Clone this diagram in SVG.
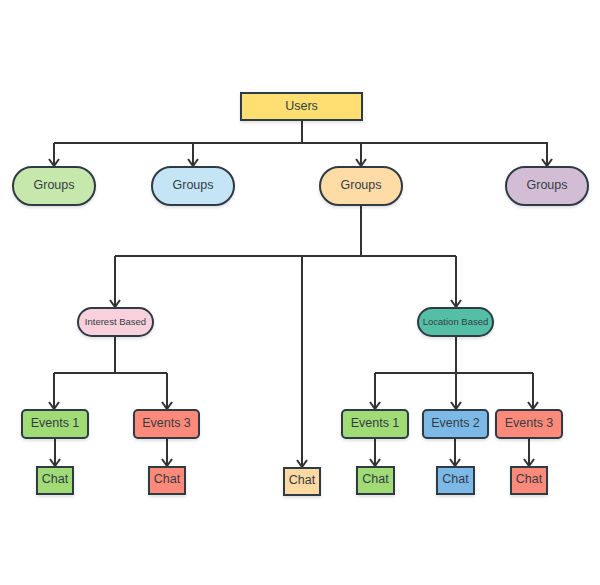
<svg xmlns="http://www.w3.org/2000/svg" width="600" height="585" viewBox="0 0 600 585">
<defs>
<marker id="arr" markerWidth="12" markerHeight="12" refX="9" refY="6" orient="auto" markerUnits="userSpaceOnUse" viewBox="0 0 12 12">
<path d="M2,1 L9,6 L2,11" fill="none" stroke="#333" stroke-width="2"/>
</marker>
<filter id="sh" x="-20%" y="-20%" width="140%" height="160%">
<feDropShadow dx="0" dy="2" stdDeviation="1.5" flood-color="#000" flood-opacity="0.12"/>
</filter>
<style>
.n{stroke:#2d3a45;stroke-width:2;filter:url(#sh)}
.t{font-family:"Liberation Sans",Arial,sans-serif;font-size:12.5px;fill:#333c45;text-anchor:middle;dominant-baseline:central}
.s{font-size:9.5px}
.c path,.c line,.c polyline{fill:none;stroke:#333;stroke-width:2}
</style>
</defs>
<rect width="600" height="585" fill="#fff"/>
<g class="c" id="connectors">
<path d="M302,120 V143"/>
<path d="M54,143 H548"/>
<path d="M54,143 V166" marker-end="url(#arr)"/>
<path d="M193,143 V166" marker-end="url(#arr)"/>
<path d="M361,143 V166" marker-end="url(#arr)"/>
<path d="M547,143 V166" marker-end="url(#arr)"/>
<path d="M361,205 V256"/>
<path d="M115,256 H456"/>
<path d="M115,256 V307" marker-end="url(#arr)"/>
<path d="M456,256 V307" marker-end="url(#arr)"/>
<path d="M302,256 V467" marker-end="url(#arr)"/>
<path d="M115,336 V373 M54,373 H167"/>
<path d="M54,373 V409" marker-end="url(#arr)"/>
<path d="M167,373 V409" marker-end="url(#arr)"/>
<path d="M456,336 V373 M375,373 H533"/>
<path d="M375,373 V409" marker-end="url(#arr)"/>
<path d="M456,373 V409" marker-end="url(#arr)"/>
<path d="M533,373 V409" marker-end="url(#arr)"/>
<path d="M55,438 V466" marker-end="url(#arr)"/>
<path d="M167,438 V466" marker-end="url(#arr)"/>
<path d="M375,438 V466" marker-end="url(#arr)"/>
<path d="M455,438 V466" marker-end="url(#arr)"/>
<path d="M529,438 V466" marker-end="url(#arr)"/>
</g>
<g id="users"><rect class="n" x="241" y="93" width="121" height="27" fill="#ffdf71"/><text class="t" x="301.5" y="106">Users</text></g>
<g id="groups1"><rect class="n" x="13" y="167" width="82" height="38" rx="19" fill="#c7e8ac"/><text class="t" x="54" y="185">Groups</text></g>
<g id="groups2"><rect class="n" x="152" y="167" width="82" height="38" rx="19" fill="#c5e5f6"/><text class="t" x="193" y="185">Groups</text></g>
<g id="groups3"><rect class="n" x="320" y="167" width="82" height="38" rx="19" fill="#ffdba5"/><text class="t" x="361" y="185">Groups</text></g>
<g id="groups4"><rect class="n" x="506" y="167" width="82" height="38" rx="19" fill="#d3bdd5"/><text class="t" x="547" y="185">Groups</text></g>
<g id="interest"><rect class="n" x="78" y="308" width="75" height="28" rx="14" fill="#f9d1dd"/><text class="t s" x="115.5" y="321">Interest Based</text></g>
<g id="location"><rect class="n" x="418" y="308" width="75" height="28" rx="14" fill="#55bfa6"/><text class="t s" x="455.5" y="321">Location Based</text></g>
<g id="ev1a"><rect class="n" x="22" y="410" width="66" height="28" rx="4" fill="#a0db74"/><text class="t" x="55" y="423">Events 1</text></g>
<g id="ev3a"><rect class="n" x="134" y="410" width="65" height="28" rx="4" fill="#ff8a7a"/><text class="t" x="166.5" y="423">Events 3</text></g>
<g id="ev1b"><rect class="n" x="342" y="410" width="66" height="28" rx="4" fill="#a0db74"/><text class="t" x="375" y="423">Events 1</text></g>
<g id="ev2b"><rect class="n" x="423" y="410" width="65" height="28" rx="4" fill="#7cb9e6"/><text class="t" x="455.5" y="423">Events 2</text></g>
<g id="ev3b"><rect class="n" x="496" y="410" width="66" height="28" rx="4" fill="#ff8a7a"/><text class="t" x="529" y="423">Events 3</text></g>
<g id="chat1"><rect class="n" x="37" y="467" width="36" height="27" fill="#a0db74"/><text class="t" x="55" y="479">Chat</text></g>
<g id="chat2"><rect class="n" x="149" y="467" width="36" height="27" fill="#ff8a7a"/><text class="t" x="167" y="479">Chat</text></g>
<g id="chat3"><rect class="n" x="284" y="468" width="36" height="27" fill="#ffd9a2"/><text class="t" x="302" y="480">Chat</text></g>
<g id="chat4"><rect class="n" x="357" y="467" width="37" height="27" fill="#a0db74"/><text class="t" x="375.5" y="479">Chat</text></g>
<g id="chat5"><rect class="n" x="437" y="467" width="37" height="27" fill="#7cb9e6"/><text class="t" x="455.5" y="479">Chat</text></g>
<g id="chat6"><rect class="n" x="511" y="467" width="36" height="27" fill="#ff8a7a"/><text class="t" x="529" y="479">Chat</text></g>
</svg>
